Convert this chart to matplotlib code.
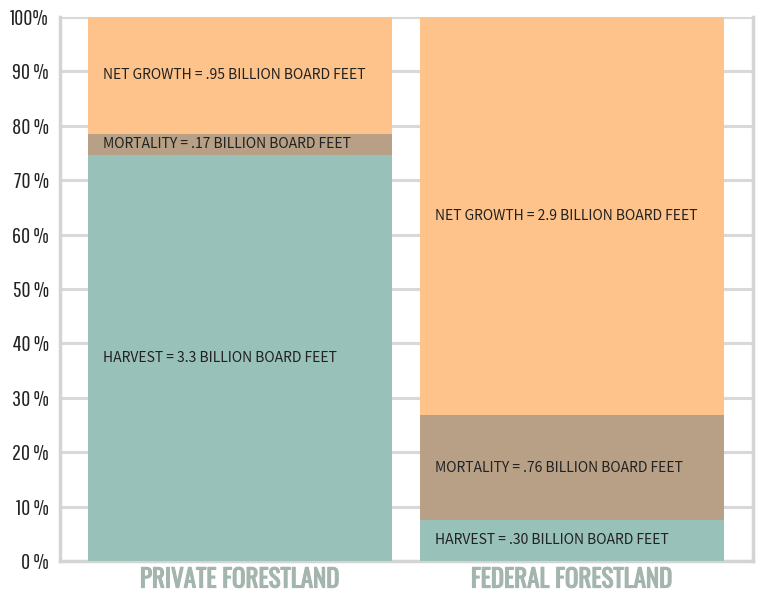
import matplotlib
matplotlib.use("Agg")
import matplotlib.pyplot as plt
import matplotlib.patheffects as pe
import numpy as np

categories = ["PRIVATE FORESTLAND", "FEDERAL FORESTLAND"]
series_names = ["HARVEST", "MORTALITY", "NET GROWTH"]
harvest = [3.3, 0.30]
mortality = [0.17, 0.76]
net_growth = [0.95, 2.9]
value_text = {
    "HARVEST": ["3.3", ".30"],
    "MORTALITY": [".17", ".76"],
    "NET GROWTH": [".95", "2.9"],
}
tick_values = [0, 10, 20, 30, 40, 50, 60, 70, 80, 90, 100]
tick_labels = ["0 %", "10 %", "20 %", "30 %", "40 %", "50 %", "60 %", "70 %", "80 %", "90 %", "100%"]
colors = ["#98C1B9", "#B8A086", "#FDC38A"]

TICKF = ["Pathway Gothic One", "DejaVu Sans"]
CATF = ["Oswald", "DejaVu Sans"]
LBL = ["Mada", "DejaVu Sans"]

fig = plt.figure(figsize=(7.58, 5.95), dpi=100)
ax = fig.add_axes([60/758, 1-561/595, 693/758, 544/595])

data = np.array([harvest, mortality, net_growth])
totals = data.sum(axis=0)
pct = data / totals * 100
x = np.arange(len(categories))
width = 0.916
bottom = np.zeros(len(categories))
for i, name in enumerate(series_names):
    ax.bar(x, pct[i], width, bottom=bottom, color=colors[i], zorder=3, linewidth=0)
    for j in range(len(categories)):
        mid = bottom[j] + pct[i][j] / 2
        ax.text(x[j] - width/2 + 0.045, mid,
                f"{name} = {value_text[name][j]} BILLION BOARD FEET",
                ha="left", va="center", fontsize=11.2, color="#222222",
                family=LBL, zorder=4)
    bottom += pct[i]

ax.set_xlim(-0.542, 1.545)
ax.set_ylim(0, 100)
ax.set_yticks(tick_values)
ax.set_yticklabels(tick_labels, family=TICKF, fontsize=16, color="#222222")
ax.set_xticks(x)
ax.set_xticklabels(categories, family=CATF, fontsize=18, color="#A3B5AD")
for t in ax.get_xticklabels():
    t.set_path_effects([pe.withStroke(linewidth=0.8, foreground="#A3B5AD")])
ax.tick_params(axis="y", length=0, pad=8)
ax.tick_params(axis="x", length=0, pad=4)
ax.grid(axis="y", color="#D9D9D9", linewidth=2.2, zorder=0)
for s in ["left", "bottom", "right"]:
    ax.spines[s].set_color("#D4D4D4")
    ax.spines[s].set_linewidth(2.5)
ax.spines["top"].set_visible(False)

fig.savefig("out.png", dpi=100)
